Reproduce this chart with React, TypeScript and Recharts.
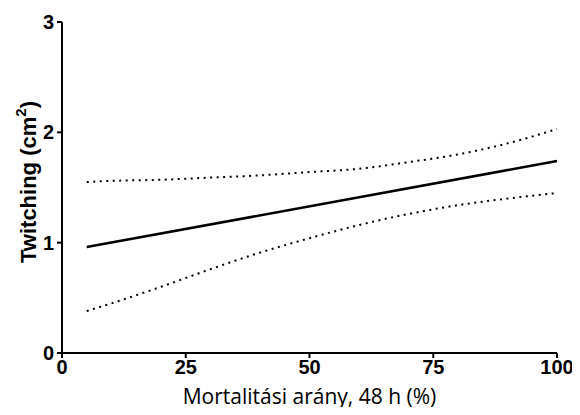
import React from "react";
import { LineChart, Line, XAxis, YAxis } from "recharts";

const xValues = [5, 10, 20, 30, 40, 50, 60, 70, 80, 90, 100];
const fitValues: (number | null)[] = [0.96, null, null, null, null, null, null, null, null, null, 1.74];
const upperValues = [1.55, 1.56, 1.57, 1.59, 1.61, 1.64, 1.67, 1.73, 1.8, 1.9, 2.03];
const lowerValues = [0.38, 0.45, 0.6, 0.76, 0.91, 1.04, 1.16, 1.26, 1.34, 1.4, 1.45];
const xTicks = [0, 25, 50, 75, 100];
const yTicks = [0, 1, 2, 3];

const data = xValues.map((x, i) => ({
  x,
  fit: fitValues[i],
  upper: upperValues[i],
  lower: lowerValues[i],
}));

const tickStyle = {
  fontFamily: "'Liberation Sans', Arial, sans-serif",
  fontWeight: 700,
  fontSize: 20,
  fill: "#000",
};

const YLabel = () => (
  <text
    x={28}
    y={182}
    transform="rotate(-90, 28, 182)"
    textAnchor="middle"
    dominantBaseline="central"
    style={{
      fontFamily: "'Liberation Sans', Arial, sans-serif",
      fontWeight: 700,
      fontSize: 22,
      fill: "#000",
    }}
  >
    Twitching (cm
    <tspan fontSize={15} dy={-8}>2</tspan>
    <tspan dy={8}>)</tspan>
  </text>
);

const XLabel = () => (
  <text
    x={309.5}
    y={396}
    textAnchor="middle"
    dominantBaseline="central"
    style={{
      fontFamily: "'Open Sans', sans-serif",
      fontWeight: 400,
      fontSize: 21,
      fill: "#000",
    }}
  >
    Mortalitási arány, 48 h (%)
  </text>
);

export default function App() {
  return (
    <div style={{ margin: -8, width: 580, height: 415 }}>
      <LineChart
        width={580}
        height={415}
        data={data}
        margin={{ top: 22, right: 23, left: 0, bottom: 0 }}
      >
        <XAxis
          type="number"
          dataKey="x"
          domain={[0, 100]}
          ticks={xTicks}
          height={62}
          axisLine={{ stroke: "#000", strokeWidth: 2 }}
          tickLine={{ stroke: "#000", strokeWidth: 2 }}
          tickSize={5}
          tickMargin={2}
          tick={tickStyle}
          label={{ content: () => <XLabel /> }}
        />
        <YAxis
          type="number"
          domain={[0, 3]}
          ticks={yTicks}
          width={62}
          axisLine={{ stroke: "#000", strokeWidth: 2 }}
          tickLine={{ stroke: "#000", strokeWidth: 2 }}
          tickSize={5}
          tickMargin={3}
          tick={tickStyle}
          label={{ content: () => <YLabel /> }}
        />
        <Line
          dataKey="upper"
          type="monotone"
          stroke="#000"
          strokeWidth={2}
          strokeDasharray="2 4.5"
          dot={false}
          isAnimationActive={false}
        />
        <Line
          dataKey="lower"
          type="monotone"
          stroke="#000"
          strokeWidth={2}
          strokeDasharray="2 4.5"
          dot={false}
          isAnimationActive={false}
        />
        <Line
          dataKey="fit"
          type="linear"
          connectNulls
          stroke="#000"
          strokeWidth={2.5}
          dot={false}
          isAnimationActive={false}
        />
      </LineChart>
    </div>
  );
}
